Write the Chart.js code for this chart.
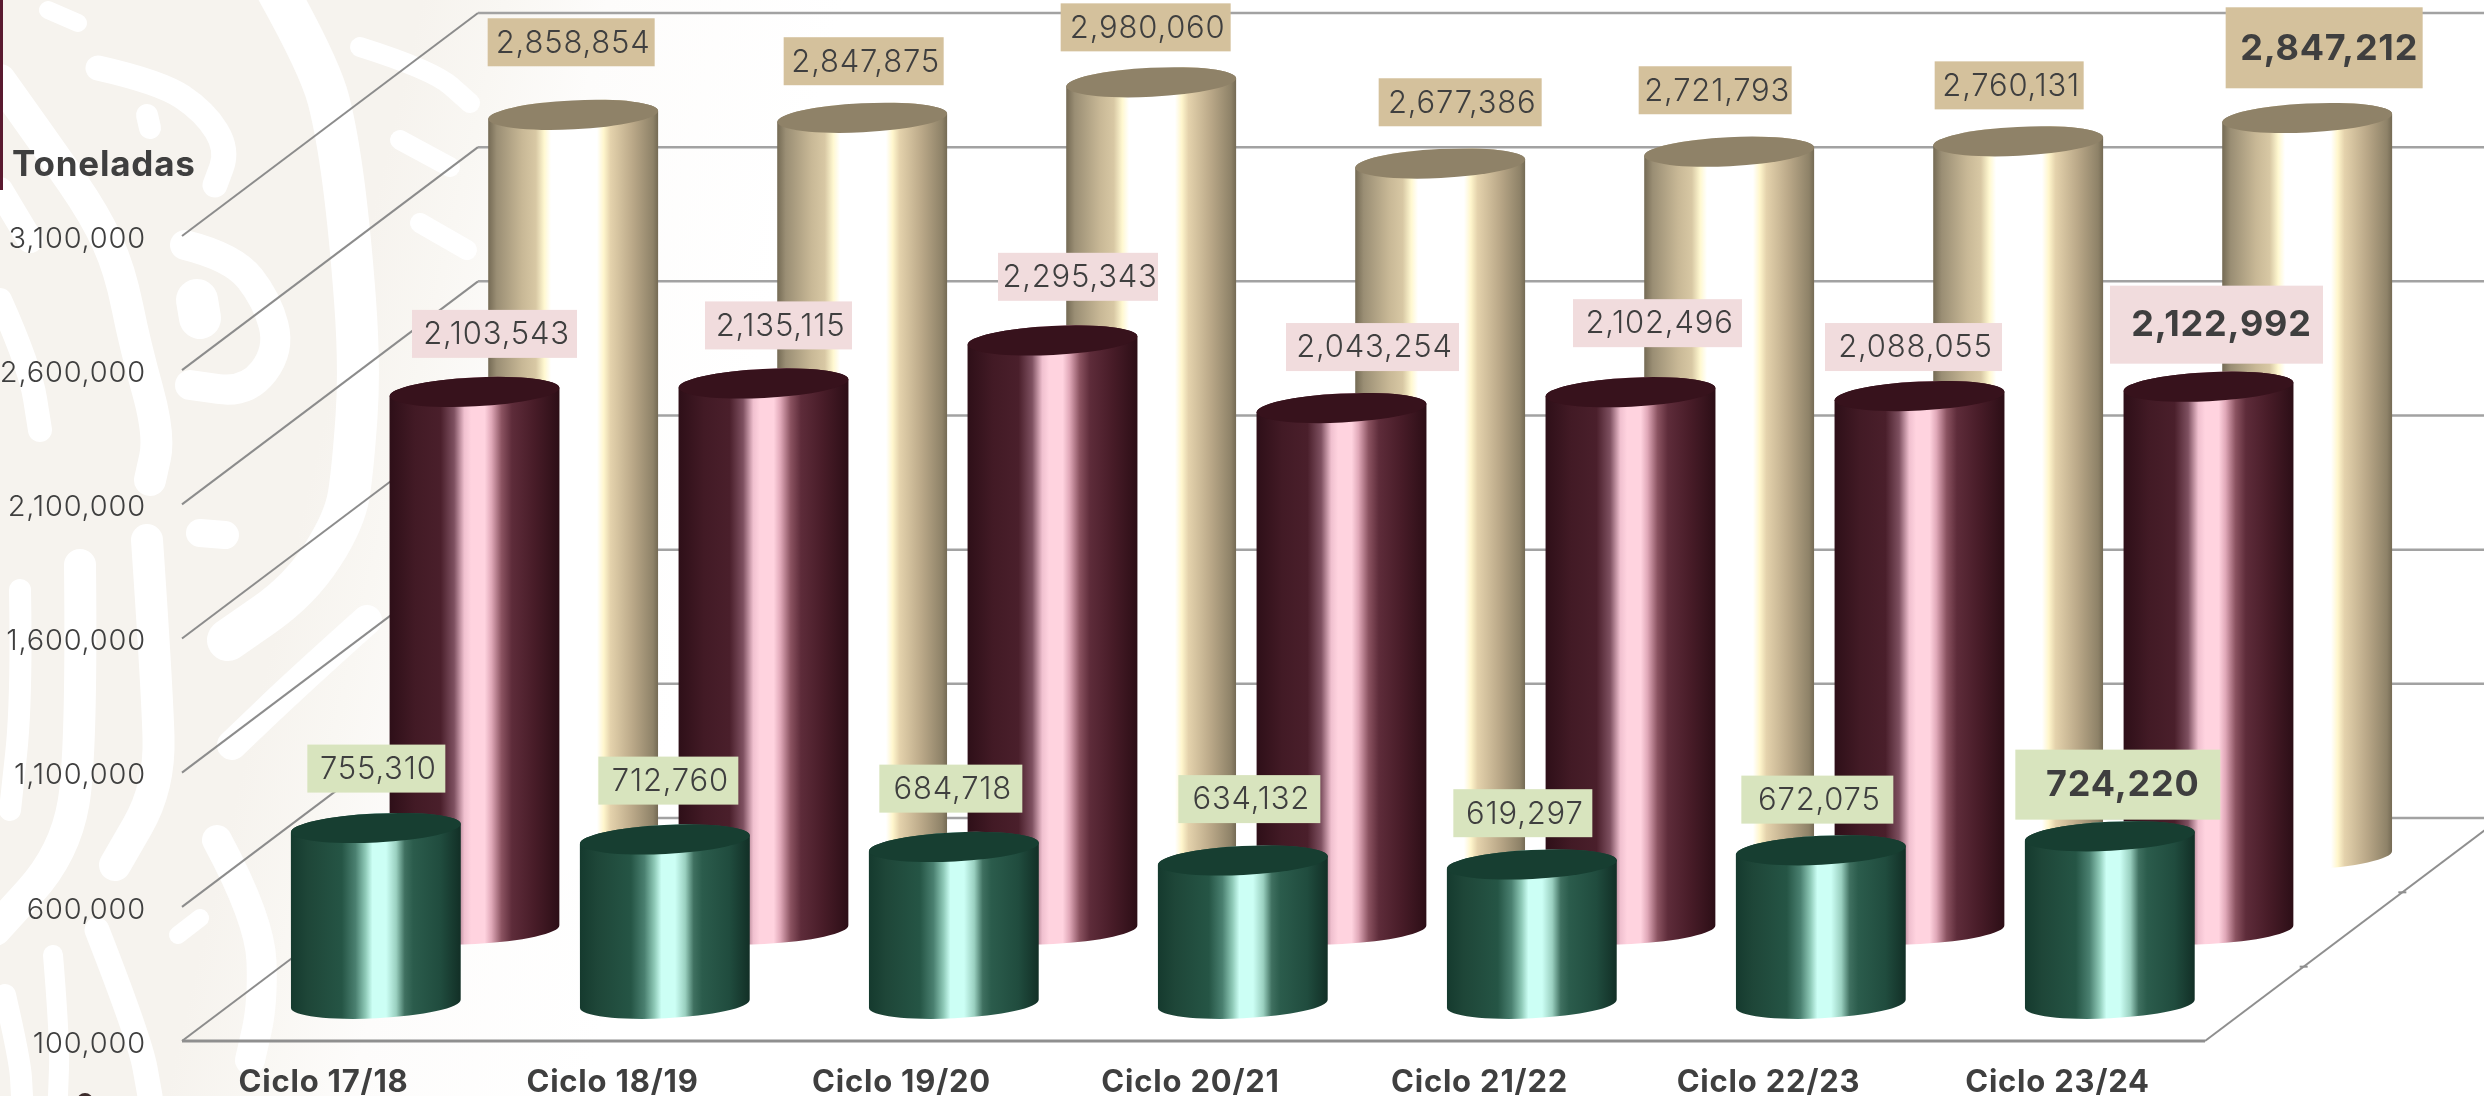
<!DOCTYPE html>
<html lang="es">
<head>
<meta charset="utf-8">
<title>Toneladas por ciclo</title>
<script src="https://cdn.jsdelivr.net/npm/chart.js@4"></script>
<style>
html,body{margin:0;padding:0;background:#fff;overflow:hidden}
canvas{display:block}
</style>
</head>
<body>
<canvas id="c" width="2484" height="1096" style="width:2484px;height:1096px"></canvas>
<script>
// ---- data ----
const categories = ['Ciclo 17/18','Ciclo 18/19','Ciclo 19/20','Ciclo 20/21','Ciclo 21/22','Ciclo 22/23','Ciclo 23/24'];
const serieVerde  = [755310,712760,684718,634132,619297,672075,724220];
const serieGuinda = [2103543,2135115,2295343,2043254,2102496,2088055,2122992];
const serieArena  = [2858854,2847875,2980060,2677386,2721793,2760131,2847212];
const yTicks = [100000,600000,1100000,1600000,2100000,2600000,3100000];
const axisTitle = 'Toneladas';

// ---- look and layout (no data here) ----
const FONT = 'Inter, "Noto Sans", sans-serif';
const INK = '#3f3f3f';
const DEPTH = {x:296, y:223};
const CAP_RY = 14.5, TILT = -0.05;
// label box relative to the top of its cylinder: [dx, dy, width, height]
const boxVerde  = [[.5,-59.4,138,48],[3.5,-58.8,140,48],[-3,-58.3,143,48],[6.5,-61.4,142,48],[-9,-51.3,139,48],[-3.5,-50.7,152,48],[8,-51.7,205,70]];
const boxGuinda = [[20,-58,165,48],[15,-58,147,48],[25.5,-63.6,160,48],[31,-61,173,48],[27,-69,169,48],[-6,-49,177,48],[8,-62,213,78]];
const boxArena  = [[-2,-72.6,167,48],[1.5,-56.6,160,48],[-5.5,-55,170,48],[20,-61.3,163,48],[-14,-61.4,153,48],[-9,-56,149,48],[17,-70.2,197,81]];

const stopsVerde = [[0,'#153a2e'],[.1,'#1e4638'],[.3,'#255545'],[.38,'#4a8070'],[.44,'#8fcab8'],[.48,'#ccfff5'],[.56,'#ccfff5'],[.62,'#9ad0c0'],[.67,'#3f7060'],[.72,'#2b5c4c'],[.88,'#204c3e'],[1,'#122f26']];
const stopsGuinda = [[0,'#2e0f18'],[.15,'#421a25'],[.3,'#4a1f2b'],[.38,'#7e5060'],[.44,'#f0c0cf'],[.48,'#ffd3df'],[.56,'#ffd3df'],[.6,'#e0a8b8'],[.66,'#8a5260'],[.72,'#5e2c3a'],[.85,'#481c28'],[1,'#2c0e16']];
const stopsArena = [[0,'#746a54'],[.05,'#9a8e74'],[.2,'#c8b896'],[.28,'#d8c8a4'],[.33,'#fff8d0'],[.37,'#ffffff'],[.64,'#ffffff'],[.68,'#fff6cc'],[.72,'#e4d2ac'],[.85,'#baa888'],[.97,'#8e8268'],[1,'#746a54']];

let active = null;   // dataset being drawn

class CylinderElement extends Chart.BarElement {
  draw(ctx){
    if(!active) return;
    const {x,y,base,width} = this.getProps(['x','y','base','width'], true);
    const rx = width/2, s = Math.sin(TILT)*rx;
    const g = ctx.createLinearGradient(x-rx,0,x+rx,0);
    active.stops.forEach(([p,c])=>g.addColorStop(p,c));
    ctx.save();
    ctx.fillStyle = g;
    ctx.beginPath();
    ctx.moveTo(x-rx, y-s);
    ctx.ellipse(x, base, rx, CAP_RY, TILT, Math.PI, 0, true);
    ctx.lineTo(x+rx, y+s);
    ctx.ellipse(x, y, rx, CAP_RY, TILT, 0, Math.PI, true);
    ctx.closePath();
    ctx.fill();
    ctx.fillStyle = active.cap;
    ctx.beginPath();
    ctx.ellipse(x, y, rx, CAP_RY, TILT, 0, Math.PI*2);
    ctx.fill();
    ctx.restore();
  }
}
CylinderElement.id = 'cylinderElement';
CylinderElement.defaults = {};

class CylinderController extends Chart.BarController {}
CylinderController.id = 'cylinder';
CylinderController.defaults = {dataElementType:'cylinderElement'};
CylinderController.overrides = Chart.BarController.overrides;
Chart.register(CylinderElement, CylinderController);

function layerOffset(ds){
  return {x:DEPTH.x*ds.depth, y:-DEPTH.y*ds.depth};
}

const backdrop = {
  id:'backdrop',
  beforeDraw(chart){
    const {ctx,width,height} = chart;
    ctx.letterSpacing = '0.8px';
    ctx.save();
    const bg = ctx.createLinearGradient(0,0,800,187);
    bg.addColorStop(0,'#f6f3ee'); bg.addColorStop(.5,'#f6f3ee'); bg.addColorStop(.6,'#f9f7f3'); bg.addColorStop(.72,'#fdfcfb'); bg.addColorStop(1,'#ffffff');
    ctx.fillStyle = bg; ctx.fillRect(0,0,width,height);
    // watermark strokes
    ctx.strokeStyle = '#ffffff'; ctx.lineCap='round'; ctx.lineJoin='round';
    const path = (w,pts)=>{
      // smooth line through the sketched points
      ctx.lineWidth = w; ctx.beginPath(); ctx.moveTo(pts[0],pts[1]);
      for(let i=2;i<pts.length-2;i+=2){
        const mx=(pts[i]+pts[i+2])/2, my=(pts[i+1]+pts[i+3])/2;
        ctx.quadraticCurveTo(pts[i],pts[i+1],mx,my);
      }
      ctx.lineTo(pts[pts.length-2],pts[pts.length-1]);
      ctx.stroke();
    };
    path(25,[98,68,160,82,205,112,228,150,215,185]);
    path(22,[147,115,150,128]);
    path(32,[0,80,50,150,95,215,120,270,135,345,160,435,150,480]);
    path(30,[185,245,233,257,267,300,280,350,247,393,190,385]);
    path(42,[197,300,200,318]);
    path(42,[277,-10,320,67,337,133,350,233,360,367,353,467,345,520,300,590,228,640]);
    path(30,[367,620,300,680,232,745]);
    path(20,[360,47,433,70,470,103]);
    path(20,[400,140,450,167]);
    path(20,[420,223,467,250]);
    path(18,[48,10,78,23]);
    path(24,[0,300,30,367,40,430]);
    path(26,[0,190,30,240]);
    path(22,[20,590,22,700,10,810]);
    path(32,[80,565,82,753,65,853,-5,930]);
    path(32,[147,540,157,687,160,787,115,865]);
    path(20,[53,955,60,1040,58,1096]);
    path(25,[97,930,140,1040,150,1096]);
    path(30,[217,840,260,920,263,1003,250,1060]);
    path(18,[178,935,200,918]);
    path(28,[200,533,225,535]);
    path(22,[5,995,20,1060,22,1096]);
    // tab in the corner
    ctx.fillStyle='#5a1a30'; ctx.fillRect(0,0,3,190);
    ctx.fillStyle='#3d2c2c'; ctx.beginPath(); ctx.arc(85,1101,8,0,Math.PI*2); ctx.fill();
    ctx.restore();
  }
};

const box3d = {
  id:'box3d',
  beforeDatasetsDraw(chart){
    const {ctx,scales:{x,y},width} = chart;
    const L = x.left, R = x.right;
    ctx.save();
    ctx.lineCap='butt';
    y.ticks.forEach(t=>{
      const py = y.getPixelForValue(t.value);
      ctx.strokeStyle='#8c8c8c'; ctx.lineWidth=2;
      ctx.beginPath(); ctx.moveTo(L,py); ctx.lineTo(L+DEPTH.x,py-DEPTH.y); ctx.stroke();
      ctx.strokeStyle='#a2a2a2'; ctx.lineWidth=2.5;
      ctx.beginPath(); ctx.moveTo(L+DEPTH.x,py-DEPTH.y); ctx.lineTo(width,py-DEPTH.y); ctx.stroke();
    });
    const yb = y.bottom;
    ctx.strokeStyle='#8f8f8f'; ctx.lineWidth=3;
    ctx.beginPath(); ctx.moveTo(L,yb); ctx.lineTo(R,yb); ctx.stroke();
    ctx.lineWidth=2;
    ctx.beginPath(); ctx.moveTo(R,yb); ctx.lineTo(R+DEPTH.x,yb-DEPTH.y); ctx.stroke();
    [1/3,2/3].forEach(f=>{
      const px=R+DEPTH.x*f, py=yb-DEPTH.y*f;
      ctx.beginPath(); ctx.moveTo(px-4,py); ctx.lineTo(px+4,py); ctx.stroke();
    });
    ctx.fillStyle=INK; ctx.font='700 35px '+FONT; ctx.textAlign='left'; ctx.textBaseline='middle';
    ctx.fillText(axisTitle,12,165);
    ctx.restore();
  },
  beforeDatasetDraw(chart,args){
    const ds = chart.data.datasets[args.index];
    active = ds;
    const o = layerOffset(ds);
    chart.ctx.save();
    chart.ctx.translate(o.x,o.y);
  },
  afterDatasetDraw(chart){
    chart.ctx.restore();
    active = null;
  },
  afterDatasetsDraw(chart){
    const ctx = chart.ctx;
    ctx.save();
    ctx.textAlign='center'; ctx.textBaseline='middle';
    [2,1,0].forEach(di=>{
      const ds = chart.data.datasets[di], o = layerOffset(ds);
      chart.getDatasetMeta(di).data.forEach((el,i)=>{
        const [dx,dy,w,h] = ds.boxes[i];
        const cx = el.x+o.x+dx, cy = el.y+o.y+dy;
        ctx.fillStyle = ds.boxColor;
        ctx.fillRect(cx-w/2,cy-h/2,w,h);
        const last = i===categories.length-1;
        ctx.fillStyle = INK;
        ctx.font = (last?'700 36px ':'300 31px ')+FONT;
        ctx.fillText(ds.data[i].toLocaleString('en-US'),cx+(last?5:2),cy+1);
      });
    });
    ctx.restore();
  }
};

new Chart(document.getElementById('c').getContext('2d'),{
  type:'cylinder',
  data:{
    labels:categories,
    datasets:[
      {label:'Verde', data:serieVerde, base:100000, depth:1/6, stops:stopsVerde, cap:'#173e31', boxColor:'#d8e4be', boxes:boxVerde, backgroundColor:'#255545'},
      {label:'Guinda',data:serieGuinda,base:100000, depth:3/6, stops:stopsGuinda,cap:'#37121c', boxColor:'#f1dcdd', boxes:boxGuinda,backgroundColor:'#4a1f2b'},
      {label:'Arena', data:serieArena, base:100000, depth:5/6, stops:stopsArena, cap:'#8f8268', boxColor:'#d4c19c', boxes:boxArena, backgroundColor:'#d4c19c'}
    ]
  },
  options:{
    responsive:false,
    animation:false,
    devicePixelRatio:1,
    layout:{padding:{top:236,left:0,right:279,bottom:0}},
    datasets:{cylinder:{grouped:false,clip:false,categoryPercentage:1,barPercentage:0.588}},
    plugins:{legend:{display:false},tooltip:{enabled:false},title:{display:false}},
    scales:{
      x:{
        type:'category',
        grid:{display:false,drawTicks:false},
        border:{display:false},
        afterFit(s){s.height=55;},
        ticks:{color:INK,font:{family:FONT,size:31,weight:'700'},padding:23,labelOffset:-3,maxRotation:0,autoSkip:false}
      },
      y:{
        type:'linear',min:100000,max:3100000,
        grid:{display:false,drawTicks:false},
        border:{display:false},
        afterFit(s){s.width=182;},
        afterBuildTicks(s){s.ticks=yTicks.map(v=>({value:v}));},
        afterUpdate(s){
          // nudge the tick text to sit on its line as in the reference
          const get = s.getLabelItems;
          if(s._nudged) return;
          s._nudged = true;
          s.getLabelItems = function(a){
            const items = get.call(this,a);
            items.forEach(it=>{ if(!it._n){ it._n=true; it.options.translation[1]+=3; } });
            return items;
          };
        },
        ticks:{color:INK,font:{family:FONT,size:29,weight:'300'},padding:36,
          callback:v=>Number(v).toLocaleString('en-US')}
      }
    }
  },
  plugins:[backdrop,box3d]
});
</script>
</body>
</html>
